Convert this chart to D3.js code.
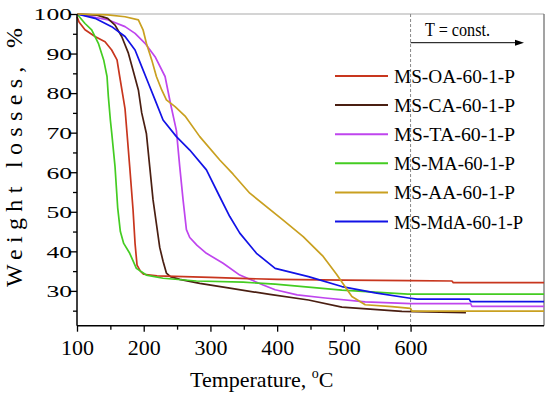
<!DOCTYPE html>
<html><head><meta charset="utf-8">
<script src="https://cdn.jsdelivr.net/npm/d3@7"></script>
<style>body{margin:0;background:#fff}svg{display:block}text{font-family:"Liberation Serif","Times New Roman",serif}</style>
</head><body><svg id="c" width="550" height="396"></svg>
<script>
const names = ["MS-OA-60-1-P","MS-CA-60-1-P","MS-TA-60-1-P","MS-MA-60-1-P","MS-AA-60-1-P","MS-MdA-60-1-P"];
const colors = ["#c8361e","#4a1f12","#bf45ee","#44cc22","#c9a020","#1212e6"];

const tOA = [100,103,112,127,142,152,160,164,169,172,175,179,184,187,190,195,200,220,300,400,500,600,662,664,800];
const wOA = [99.3,98,96,94.3,93,90.9,88.4,84.2,79.1,76,69.8,61.4,50.5,42,36.5,35,34.2,33.8,33.4,32.9,32.7,32.6,32.5,32.1,32.1];

const tCA = [100,130,146,157,167,177,184,192,197,204,209,214,219,224,229,234,240,254,284,329,389,447,497,587,683];
const wCA = [100,99.7,98.9,97.2,94.3,90.1,85.8,80.8,75,69.8,61.4,53,47,41,37.5,34.5,33.6,32.9,31.9,30.7,29.1,27.7,25.9,24.8,24.5];

const tTA = [100,147,172,187,202,217,232,240,249,254,259,264,269,280,294,319,344,379,397,430,472,532,600,690,692,800];
const wTA = [100,98.5,96.8,95.1,92.6,89.2,84.2,77.5,70.5,61.4,53,45.5,43.5,41.5,39.5,37,34,31.5,30.3,29,28.2,27.2,26.8,26.8,26.1,26.1];

const tMA = [100,112,122,132,140,145,147,150,152,157,161,165,170,179,189,204,229,279,349,397,497,596,800];
const wMA = [100,97.6,96,92.6,88.4,84.2,79.1,73.2,70,61.4,51,45,42,39.5,35.7,34,33.2,32.5,32.2,31.7,30.2,29.2,29.2];

const tAA = [100,146,172,192,199,204,212,219,227,234,247,262,284,314,334,359,409,439,469,489,512,532,572,600,602,800];
const wAA = [100,99.8,99.3,98.5,96,92.6,88.4,84.2,80.8,78.3,76.6,74.2,69,63.1,59.5,54.7,47.9,43.7,38.7,34.2,28.6,26.5,26,25.6,24.9,24.9];

const tMdA = [100,127,152,172,187,197,207,217,229,249,269,294,314,329,344,369,397,447,497,547,597,610,688,690,800];
const wMdA = [100,98.9,96.8,94.3,90.9,86.7,82.5,78.3,73.2,69,65.6,60.6,53.8,48.8,44.6,39.5,35.7,33.6,31.1,29.5,28.2,27.9,27.9,27.3,27.3];

const xMajor = [100,200,300,400,500,600];
const xMinor = [150,250,350,450,550];
const yMajor = [30,40,50,60,70,80,90,100];
const yMinor = [25,35,45,55,65,75,85,95];
const constT = 600;

const series = [[tOA,wOA],[tCA,wCA],[tTA,wTA],[tMA,wMA],[tAA,wAA],[tMdA,wMdA]];

const svg = d3.select("#c");
const L=77, R=544, T=14, B=325.7;
const x = d3.scaleLinear().domain([100,800]).range([L,R]);
const y = d3.scaleLinear().domain([21.2,100]).range([B,T]);

svg.append("line").attr("x1",L).attr("x2",R).attr("y1",T).attr("y2",T).attr("stroke","#aaa").attr("stroke-width",1.2);
svg.append("line").attr("x1",R).attr("x2",R).attr("y1",T).attr("y2",B).attr("stroke","#666").attr("stroke-width",1.2);

svg.append("line").attr("x1",x(constT)).attr("x2",x(constT)).attr("y1",T).attr("y2",B)
  .attr("stroke","#888").attr("stroke-width",1).attr("stroke-dasharray","3,2");

const line = d3.line().x(d=>x(d[0])).y(d=>y(d[1]));
const order = [2,1,0,3,5,4];
order.forEach(i=>{
  const [ts,ws]=series[i];
  svg.append("path").datum(ts.map((t,j)=>[t,ws[j]])).attr("d",line)
    .attr("fill","none").attr("stroke",colors[i]).attr("stroke-width",1.7).attr("stroke-linejoin","round");
});

const xa = svg.append("g").attr("transform",`translate(0,${B})`)
  .call(d3.axisBottom(x).tickValues(xMajor).tickSize(6).tickFormat(d3.format("d")));
xa.select(".domain").attr("stroke","#000").attr("stroke-width",1.5).attr("d",`M${L},0H${R}`);
xa.selectAll(".tick line").attr("stroke","#000").attr("stroke-width",1.3);
xa.selectAll(".tick text").attr("font-size",22).attr("fill","#000").attr("y",29).attr("dy",0)
  .attr("font-family","Liberation Serif");
const xm = svg.append("g").attr("transform",`translate(0,${B})`)
  .call(d3.axisBottom(x).tickValues(xMinor).tickSize(4).tickFormat(""));
xm.select(".domain").remove();
xm.selectAll(".tick line").attr("stroke","#000").attr("stroke-width",1.3);

const ya = svg.append("g").attr("transform",`translate(${L},0)`)
  .call(d3.axisLeft(y).tickValues(yMajor).tickSize(7).tickFormat(d3.format("d")));
ya.select(".domain").attr("stroke","#000").attr("stroke-width",1.5).attr("d",`M0,${T}V${B}`);
ya.selectAll(".tick line").attr("stroke","#000").attr("stroke-width",1.3);
ya.selectAll(".tick text").attr("font-size",17).attr("fill","#000").attr("x",-5).attr("dy","0.34em")
  .attr("font-family","Liberation Serif")
  .attr("textLength",d=>String(d).length*12.8).attr("lengthAdjust","spacingAndGlyphs");
const ym = svg.append("g").attr("transform",`translate(${L},0)`)
  .call(d3.axisLeft(y).tickValues(yMinor).tickSize(4).tickFormat(""));
ym.select(".domain").remove();
ym.selectAll(".tick line").attr("stroke","#000").attr("stroke-width",1.3);

const xt = svg.append("text").attr("x",190).attr("y",386.7).attr("font-size",22).attr("fill","#000");
xt.append("tspan").text("Temperature, ");
xt.append("tspan").attr("font-size",14).attr("dy",-9).text("o");
xt.append("tspan").attr("dy",9).text("C");

svg.append("text").attr("transform","translate(22,157.5) rotate(-90)").attr("text-anchor","middle")
  .attr("font-size",24).attr("fill","#000").attr("textLength",259).attr("lengthAdjust","spacing")
  .text("Weight losses, %");

svg.append("text").attr("x",425).attr("y",36).attr("font-size",18).attr("fill","#000")
  .attr("textLength",65).attr("lengthAdjust","spacingAndGlyphs").text("T = const.");
svg.append("line").attr("x1",x(constT)).attr("x2",516).attr("y1",42.7).attr("y2",42.7).attr("stroke","#000").attr("stroke-width",1);
svg.append("path").attr("d","M524,42.7L515,39.7L515,45.7Z").attr("fill","#000");

const lg = svg.append("g");
names.forEach((n,i)=>{
  const yy = 76 + i*29.1;
  lg.append("line").attr("x1",335).attr("x2",388).attr("y1",yy).attr("y2",yy).attr("stroke",colors[i]).attr("stroke-width",2);
  lg.append("text").attr("x",394).attr("y",yy+7).attr("font-size",19.5).attr("fill","#000")
    .attr("textLength",i===5?129:121).attr("lengthAdjust","spacingAndGlyphs").text(n);
});
</script></body></html>
